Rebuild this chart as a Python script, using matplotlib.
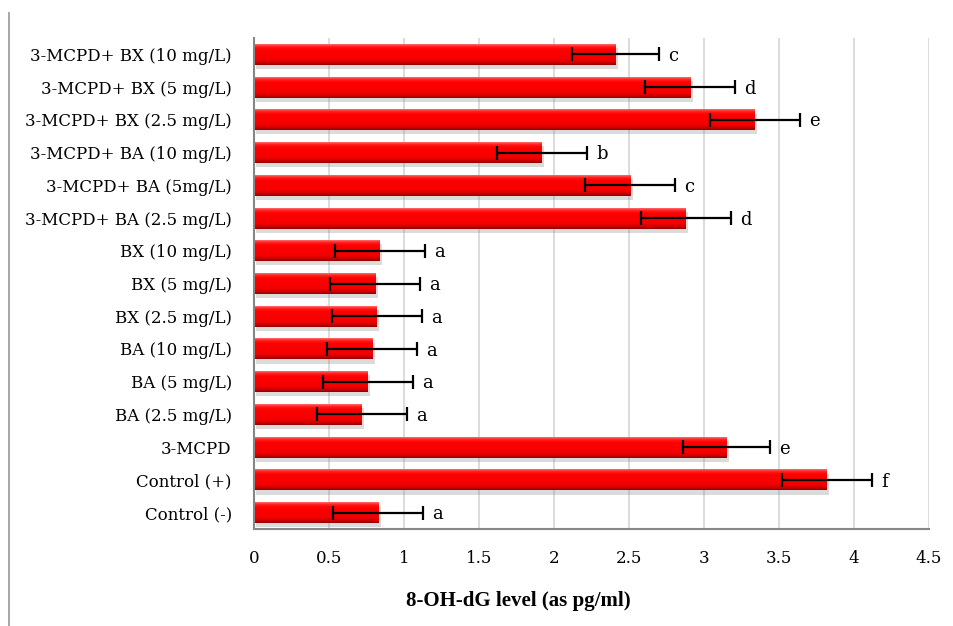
import numpy as np
import matplotlib
matplotlib.use('Agg')
import matplotlib.pyplot as plt
import matplotlib.patheffects as pe
from matplotlib.colors import LinearSegmentedColormap
from matplotlib.lines import Line2D

# categories listed top to bottom as in the chart
groups = ['3-MCPD+ BX (10 mg/L)', '3-MCPD+ BX (5 mg/L)', '3-MCPD+ BX (2.5 mg/L)',
          '3-MCPD+ BA (10 mg/L)', '3-MCPD+ BA (5mg/L)', '3-MCPD+ BA (2.5 mg/L)',
          'BX (10 mg/L)', 'BX (5 mg/L)', 'BX (2.5 mg/L)',
          'BA (10 mg/L)', 'BA (5 mg/L)', 'BA (2.5 mg/L)',
          '3-MCPD', 'Control (+)', 'Control (-)']
levels = [2.41, 2.91, 3.34, 1.92, 2.51, 2.88, 0.84, 0.81, 0.82, 0.79, 0.76, 0.72, 3.15, 3.82, 0.83]
errors = [0.29, 0.30, 0.30, 0.30, 0.30, 0.30, 0.30, 0.30, 0.30, 0.30, 0.30, 0.30, 0.29, 0.30, 0.30]
letters = ['c', 'd', 'e', 'b', 'c', 'd', 'a', 'a', 'a', 'a', 'a', 'a', 'e', 'f', 'a']
xticks = [0, 0.5, 1, 1.5, 2, 2.5, 3, 3.5, 4, 4.5]

plt.rcParams['font.family'] = ['DejaVu Serif']

fig = plt.figure(figsize=(9.54, 6.26), dpi=100)
ax = fig.add_axes([254 / 954, 97 / 626, 675 / 954, 491 / 626])

ypos = np.arange(len(groups))
bar_h = 0.64

shadow = [pe.SimplePatchShadow(offset=(1.5, -3), shadow_rgbFace='#888888', alpha=0.3), pe.Normal()]
bars = ax.barh(ypos, levels, height=bar_h, color='#ff0000', edgecolor='none', zorder=2,
               path_effects=shadow)

# bevel-like shading on each bar
grad_cmap = LinearSegmentedColormap.from_list(
    'bevel', [(0.0, '#ff6a6a'), (0.12, '#ff1a1a'), (0.25, '#ff0000'),
              (0.75, '#f40000'), (0.9, '#c80000'), (1.0, '#900000')])
grad = np.linspace(0, 1, 64).reshape(-1, 1)
for b in bars:
    x0, y0 = b.get_x(), b.get_y()
    w, h = b.get_width(), b.get_height()
    im = ax.imshow(grad, cmap=grad_cmap, aspect='auto', origin='upper',
                   extent=(x0, x0 + w, y0 + h, y0), zorder=2.1, interpolation='bilinear')
    im.set_clip_path(b)

ax.errorbar(levels, ypos, xerr=errors, fmt='none', ecolor='black', elinewidth=1.6,
            capsize=5, capthick=1.6, zorder=4)

for y, v, e, t in zip(ypos, levels, errors, letters):
    ax.text(v + e + 0.06, y + 0.05, t, fontsize=13, ha='left', va='center', zorder=5)

ax.set_xlim(0, 4.5)
ax.set_ylim(len(groups) - 0.5, -0.5)
ax.set_xticks(xticks)
ax.set_xticklabels([('%g' % t) for t in xticks], fontsize=12)
ax.set_yticks(ypos)
ax.set_yticklabels(groups, fontsize=12)
ax.tick_params(axis='x', length=0, pad=15)
ax.tick_params(axis='y', length=0, pad=16)

ax.xaxis.grid(True, color='#d9d9d9', linewidth=1.3, zorder=0)
ax.set_axisbelow(True)
for s in ['top', 'right']:
    ax.spines[s].set_visible(False)
for s in ['left', 'bottom']:
    ax.spines[s].set_color('#868686')
    ax.spines[s].set_linewidth(1.5)

fig.text(518 / 954, 1 - 601 / 626, '8-OH-dG level (as pg/ml)', ha='center', va='center',
         fontsize=15, fontweight='bold', family='Liberation Serif')

# outer frame line at the left edge of the figure
fig.add_artist(Line2D([9.5 / 954, 9.5 / 954], [0, 1 - 13 / 626], transform=fig.transFigure,
                      color='#a0a0a0', linewidth=1.3))

fig.savefig('out.png', dpi=100)
